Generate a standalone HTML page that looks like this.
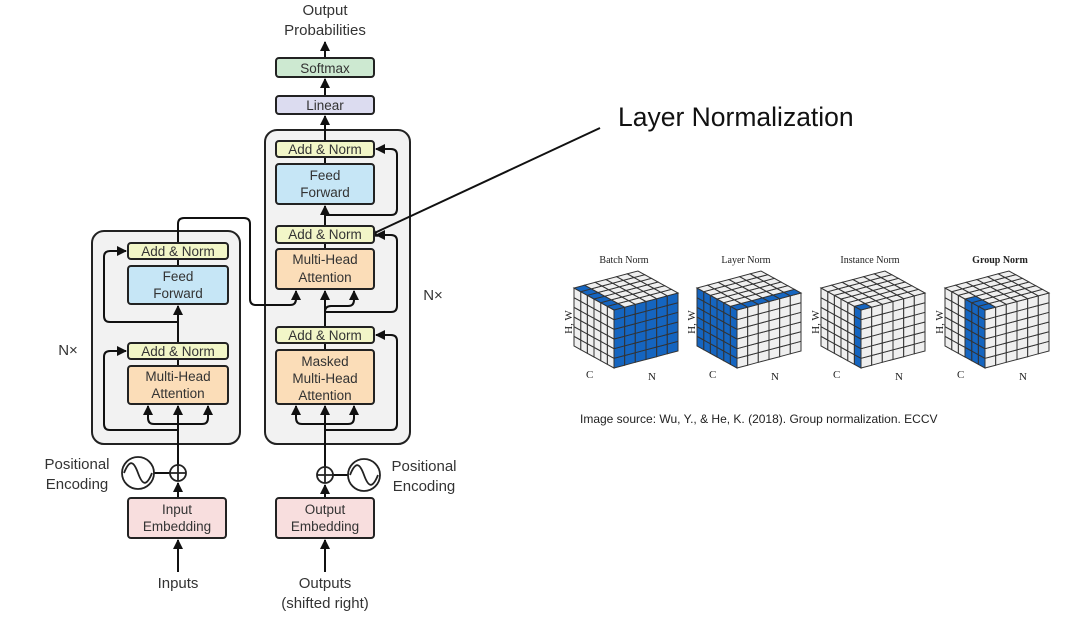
<!DOCTYPE html>
<html><head><meta charset="utf-8"><style>
html,body{margin:0;padding:0;background:#fff;}
svg{display:block;}
text{font-family:"Liberation Sans",sans-serif;fill:#333;}
.s{font-family:"Liberation Serif",serif;fill:#222;}
</style></head><body>
<svg id="sv" width="1080" height="617" viewBox="0 0 1080 617" xmlns="http://www.w3.org/2000/svg">
<defs>
<marker id="ah" viewBox="0 0 10 10" refX="9" refY="5" markerWidth="5" markerHeight="5" orient="auto-start-reverse"><path d="M0,0L10,5L0,10z" fill="#111"/></marker>
</defs>
<rect x="92" y="231" width="148" height="213" rx="12" fill="#f2f2f2" stroke="#222" stroke-width="2"/>
<rect x="265" y="130" width="145" height="314" rx="12" fill="#f2f2f2" stroke="#222" stroke-width="2"/>
<g stroke="#111" stroke-width="2" fill="none">
<line x1="178" y1="572" x2="178" y2="540" marker-end="url(#ah)"/>
<line x1="178" y1="498" x2="178" y2="483" marker-end="url(#ah)"/>
<line x1="178" y1="465" x2="178" y2="406" marker-end="url(#ah)"/>
<path d="M148,406 L148,418 Q148,424 154,424 L202,424 Q208,424 208,418 L208,406" marker-start="url(#ah)" marker-end="url(#ah)"/>
<path d="M178,430 L110,430 Q104,430 104,424 L104,357 Q104,351 110,351 L126,351" marker-end="url(#ah)"/>
<line x1="178" y1="343" x2="178" y2="306" marker-end="url(#ah)"/>
<path d="M178,322 L110,322 Q104,322 104,316 L104,257 Q104,251 110,251 L126,251" marker-end="url(#ah)"/>
<path d="M178,243 L178,224 Q178,218 184,218 L244,218 Q250,218 250,224 L250,299 Q250,305 256,305 L290,305 Q296,305 296,299 L296,291" marker-end="url(#ah)"/>
<line x1="154" y1="473" x2="170" y2="473"/>
<line x1="325" y1="572" x2="325" y2="540" marker-end="url(#ah)"/>
<line x1="325" y1="498" x2="325" y2="485" marker-end="url(#ah)"/>
<line x1="325" y1="467" x2="325" y2="406" marker-end="url(#ah)"/>
<path d="M296,406 L296,418 Q296,424 302,424 L348,424 Q354,424 354,418 L354,406" marker-start="url(#ah)" marker-end="url(#ah)"/>
<path d="M325,430 L391,430 Q397,430 397,424 L397,341 Q397,335 391,335 L376,335" marker-end="url(#ah)"/>
<line x1="325" y1="350" x2="325" y2="343"/>
<line x1="325" y1="327" x2="325" y2="291" marker-end="url(#ah)"/>
<path d="M325,312 Q325,306 331,306 L348,306 Q354,306 354,300 L354,291" marker-end="url(#ah)"/>
<path d="M325,312 L391,312 Q397,312 397,306 L397,241 Q397,235 391,235 L376,235" marker-end="url(#ah)"/>
<line x1="325" y1="249" x2="325" y2="243"/>
<line x1="325" y1="226" x2="325" y2="206" marker-end="url(#ah)"/>
<path d="M325,215 L391,215 Q397,215 397,209 L397,155 Q397,149 391,149 L376,149" marker-end="url(#ah)"/>
<line x1="325" y1="164" x2="325" y2="157"/>
<line x1="325" y1="141" x2="325" y2="116" marker-end="url(#ah)"/>
<line x1="325" y1="96" x2="325" y2="79" marker-end="url(#ah)"/>
<line x1="325" y1="58" x2="325" y2="42" marker-end="url(#ah)"/>
<line x1="333" y1="475" x2="348" y2="475"/>
<line x1="178" y1="259" x2="178" y2="266"/>
<line x1="178" y1="359" x2="178" y2="366"/>
<line x1="600" y1="128" x2="368" y2="236" stroke-width="2" marker-end="url(#ah)"/>
</g>
<g stroke="#222" stroke-width="2">
<rect x="128" y="243" width="100" height="16" rx="3" fill="#f2f6c8"/>
<rect x="128" y="266" width="100" height="38" rx="3" fill="#c6e6f6"/>
<rect x="128" y="343" width="100" height="16" rx="3" fill="#f2f6c8"/>
<rect x="128" y="366" width="100" height="38" rx="3" fill="#fbddb8"/>
<rect x="128" y="498" width="98" height="40" rx="3" fill="#f8dede"/>
<rect x="276" y="58" width="98" height="19" rx="3" fill="#cde9d1"/>
<rect x="276" y="96" width="98" height="18" rx="3" fill="#dcdcf0"/>
<rect x="276" y="141" width="98" height="16" rx="3" fill="#f2f6c8"/>
<rect x="276" y="164" width="98" height="40" rx="3" fill="#c6e6f6"/>
<rect x="276" y="226" width="98" height="17" rx="3" fill="#f2f6c8"/>
<rect x="276" y="249" width="98" height="40" rx="3" fill="#fbddb8"/>
<rect x="276" y="327" width="98" height="16" rx="3" fill="#f2f6c8"/>
<rect x="276" y="350" width="98" height="54" rx="3" fill="#fbddb8"/>
<rect x="276" y="498" width="98" height="40" rx="3" fill="#f8dede"/>
</g>
<g fill="none" stroke="#222" stroke-width="1.8">
<circle cx="178" cy="473" r="8" fill="#fff"/><path d="M170,473h16M178,465v16"/>
<circle cx="138" cy="473" r="16" fill="#fff"/><path d="M124,473 C130,458 134,462 138,473 C142,484 146,488 152,473"/>
<circle cx="325" cy="475" r="8" fill="#fff"/><path d="M317,475h16M325,467v16"/>
<circle cx="364" cy="475" r="16" fill="#fff"/><path d="M350,475 C356,460 360,464 364,475 C368,486 372,490 378,475"/>
</g>
<g font-size="13.5" text-anchor="middle">
<text x="178" y="256">Add &amp; Norm</text>
<text x="178" y="281">Feed</text><text x="178" y="298">Forward</text>
<text x="178" y="356">Add &amp; Norm</text>
<text x="178" y="381">Multi-Head</text><text x="178" y="398">Attention</text>
<text x="177" y="514">Input</text><text x="177" y="531">Embedding</text>
<text x="325" y="73">Softmax</text>
<text x="325" y="110">Linear</text>
<text x="325" y="154">Add &amp; Norm</text>
<text x="325" y="180">Feed</text><text x="325" y="197">Forward</text>
<text x="325" y="239">Add &amp; Norm</text>
<text x="325" y="264">Multi-Head</text><text x="325" y="282">Attention</text>
<text x="325" y="340">Add &amp; Norm</text>
<text x="325" y="366">Masked</text><text x="325" y="383">Multi-Head</text><text x="325" y="400">Attention</text>
<text x="325" y="514">Output</text><text x="325" y="531">Embedding</text>
</g>
<g font-size="15" text-anchor="middle">
<text x="325" y="15">Output</text><text x="325" y="35">Probabilities</text>
<text x="77" y="469">Positional</text><text x="77" y="489">Encoding</text>
<text x="424" y="471">Positional</text><text x="424" y="491">Encoding</text>
<text x="178" y="588">Inputs</text>
<text x="325" y="588">Outputs</text><text x="325" y="608">(shifted right)</text>
<text x="68" y="355">N×</text>
<text x="433" y="300">N×</text>
</g>
<text x="618" y="126" font-size="26.5" style="fill:#111">Layer Normalization</text>
<text x="580" y="423" font-size="12" style="fill:#222">Image source: Wu, Y., &amp; He, K. (2018). Group normalization. ECCV</text>
<g font-size="10" text-anchor="middle">
<text class="s" x="624" y="263">Batch Norm</text>
<text class="s" x="746" y="263">Layer Norm</text>
<text class="s" x="870" y="263">Instance Norm</text>
<text class="s" x="1000" y="263" font-weight="bold">Group Norm</text>
</g>
<g id="cubes"></g>
</svg>
<script>
(function(){
var g=document.getElementById('cubes'),out='';
var B='#1565c0',W='#efefef';
function poly(pts,f){out+='<polygon points="'+pts.map(function(p){return p[0].toFixed(1)+','+p[1].toFixed(1)}).join(' ')+'" fill="'+f+'" stroke="#333" stroke-width="1"/>';}
function cube(x0,mode){
 var P=[x0+40,310],L=[-40,-22],R=[64,-17],U=[0,-58],n=6;
 function pt(o,a,b,A,Bv){return [o[0]+a*A[0]+b*Bv[0],o[1]+a*A[1]+b*Bv[1]];}
 var i,j,f,a,b,c,d;
 var Pb=[P[0],P[1]+58];
 for(i=0;i<n;i++)for(j=0;j<n;j++){
  f=W;
  if(mode==1)f=B;
  if(mode==2&&i==0)f=B;
  if(mode==3&&i<3)f=B;
  a=i/n;b=(i+1)/n;c=j/n;d=(j+1)/n;
  poly([pt(Pb,a,c,L,U),pt(Pb,b,c,L,U),pt(Pb,b,d,L,U),pt(Pb,a,d,L,U)],f);
 }
 for(i=0;i<n;i++)for(j=0;j<n;j++){
  f=(mode==0)?B:W;
  a=i/n;b=(i+1)/n;c=j/n;d=(j+1)/n;
  poly([pt(Pb,a,c,R,U),pt(Pb,b,c,R,U),pt(Pb,b,d,R,U),pt(Pb,a,d,R,U)],f);
 }
 for(i=0;i<n;i++)for(j=0;j<n;j++){
  f=W;
  if(mode==1&&i==0)f=B;
  if(mode==0&&j==0)f=B;
  if(mode==2&&i==0&&j==0)f=B;
  if(mode==3&&i<3&&j==0)f=B;
  a=i/n;b=(i+1)/n;c=j/n;d=(j+1)/n;
  poly([pt(P,a,c,L,R),pt(P,b,c,L,R),pt(P,b,d,L,R),pt(P,a,d,L,R)],f);
 }
 out+='<text class="s" x="'+(x0-2)+'" y="322" font-size="11" transform="rotate(-90 '+(x0-2)+' 322)" text-anchor="middle">H, W</text>';
 out+='<text class="s" x="'+(x0+12)+'" y="378" font-size="11">C</text>';
 out+='<text class="s" x="'+(x0+74)+'" y="380" font-size="11">N</text>';
}
cube(574,0);cube(697,1);cube(821,2);cube(945,3);
g.innerHTML=out;
})();
</script>
</body></html>
